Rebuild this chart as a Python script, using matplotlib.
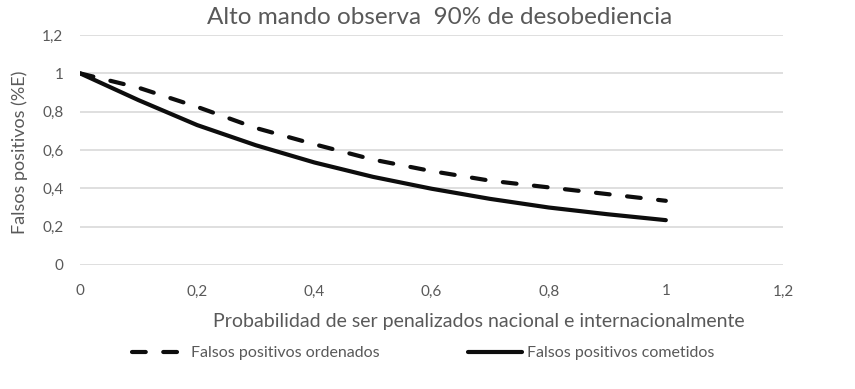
import numpy as np
import matplotlib.pyplot as plt

# probabilidad de ser penalizados
x = [0, 0.1, 0.2, 0.3, 0.4, 0.5, 0.6, 0.7, 0.8, 0.9, 1.0]
ordenados = [1.0, 0.925, 0.825, 0.715, 0.63, 0.55, 0.49, 0.44, 0.405, 0.37, 0.335]
cometidos = [1.0, 0.86, 0.73, 0.625, 0.535, 0.46, 0.398, 0.345, 0.30, 0.265, 0.234]

xticks = [0, 0.2, 0.4, 0.6, 0.8, 1.0, 1.2]
yticks = [0, 0.2, 0.4, 0.6, 0.8, 1.0, 1.2]

def coma(v):
    s = ('%.1f' % v).replace('.', ',')
    if s.endswith(',0'):
        s = s[:-2]
    return s

plt.rcParams['font.family'] = ['Lato', 'DejaVu Sans']
gris = '#595959'

fig = plt.figure(figsize=(8.55, 3.89), dpi=100)
ax = fig.add_axes([80/855, 1-265/389, 703/855, 230/389])

ax.plot(x, ordenados, color='#0d0d0d', lw=3, dashes=(3.3, 4.2),
        dash_capstyle='round', solid_capstyle='round', label='Falsos positivos ordenados')
ax.plot(x, cometidos, color='#0d0d0d', lw=3, solid_capstyle='round',
        label='Falsos positivos cometidos')

ax.set_xlim(0, 1.2)
ax.set_ylim(0, 1.2)
ax.set_xticks(xticks)
ax.set_yticks(yticks)
ax.set_xticklabels([coma(v) for v in xticks], color=gris, fontsize=11)
ax.set_yticklabels([coma(v) for v in yticks], color=gris, fontsize=11)
ax.tick_params(length=0, pad=12)
ax.tick_params(axis='x', pad=14)
ax.grid(axis='y', color='#d9d9d9', lw=1.2)
ax.set_axisbelow(True)
for s in ax.spines.values():
    s.set_visible(False)

fig.text(440/855, 1-18/389, 'Alto mando observa  90% de desobediencia',
         fontsize=17.5, color=gris, ha='center', va='center')
ax.set_xlabel('Probabilidad de ser penalizados nacional e internacionalmente', fontsize=14, color=gris)
ax.xaxis.set_label_coords((479-80)/703, -(313-265)/230)
ax.set_ylabel('Falsos positivos (%E)', fontsize=13, color=gris)
ax.yaxis.set_label_coords(-(80-28)/703, (265-152)/230)

fig.legend(loc='center', bbox_to_anchor=(0.495, 1-353/389), ncol=2, frameon=False,
           fontsize=11.5, handlelength=3.4, columnspacing=5.5, handletextpad=0.3,
           labelcolor=gris)

fig.savefig('out.png', dpi=100)
